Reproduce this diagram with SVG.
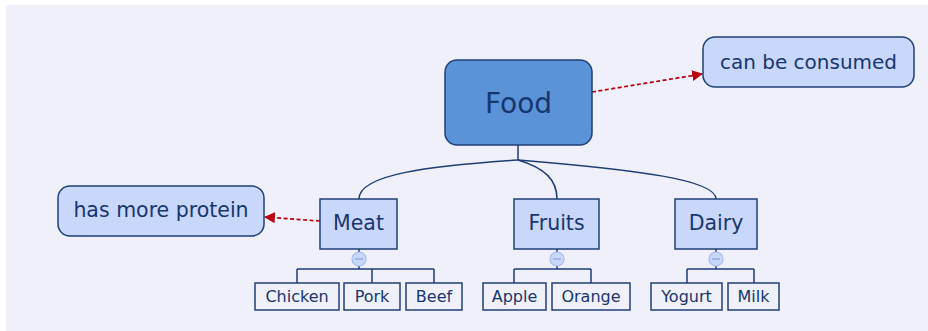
<svg xmlns="http://www.w3.org/2000/svg" width="928" height="331" viewBox="0 0 928 331">
  <defs>
    <marker id="arrow-red" viewBox="0 0 10 10" refX="9" refY="5" markerWidth="11" markerHeight="11" markerUnits="userSpaceOnUse" orient="auto">
      <path d="M0,0 L10,5 L0,10 z" fill="#b8000f"/>
    </marker>
    <style>
      text { font-family: "DejaVu Sans", Verdana, sans-serif; fill: #17366e; text-anchor: middle; }
      .root { fill: #5b93d9; stroke: #1f4077; stroke-width: 1.5; }
      .note { fill: #c9d7fb; stroke: #1f4077; stroke-width: 1.5; }
      .topic { fill: #c9d7fb; stroke: #1f4077; stroke-width: 1.5; }
      .leaf { fill: #eff0f9; stroke: #1f4077; stroke-width: 1.5; }
      .tree { fill: none; stroke: #1c3d75; stroke-width: 1.5; }
      .rel { fill: none; stroke: #b8000f; stroke-width: 1.7; stroke-dasharray: 4 2.5; }
      .fold { fill: #c9d7fb; stroke: #a4bbee; stroke-width: 1.2; }
      .fold-mark { stroke: #8aa3dd; stroke-width: 1.2; }
    </style>
  </defs>

  <rect x="0" y="0" width="928" height="331" fill="#ffffff"/>
  <rect x="6" y="5" width="922" height="326" fill="#eff0f9"/>

  <g id="connectors">
    <path class="tree" d="M518,145 V160"/>
    <path class="tree" d="M518,160 C430,166 359,174 359,199"/>
    <path class="tree" d="M518,160 C545,168 557,180 557,199"/>
    <path class="tree" d="M518,160 C640,170 716,180 716,199"/>
    <path class="tree" d="M359,249 V252 M359,266 V269 M297,269 H434 M297,269 V283 M372,269 V283 M434,269 V283"/>
    <path class="tree" d="M557,249 V252 M557,266 V269 M514,269 H591 M514,269 V283 M591,269 V283"/>
    <path class="tree" d="M716,249 V252 M716,266 V269 M687,269 H754 M687,269 V283 M754,269 V283"/>
    <path class="rel" d="M592,92 L702,74" marker-end="url(#arrow-red)"/>
    <path class="rel" d="M320,221 L265,217" marker-end="url(#arrow-red)"/>
  </g>

  <g id="food">
    <rect class="root" x="445" y="60" width="147" height="85" rx="12"/>
    <text x="518.5" y="113" font-size="28">Food</text>
  </g>

  <g id="can-be-consumed">
    <rect class="note" x="703" y="37" width="211" height="50" rx="12"/>
    <text x="808.5" y="69" font-size="20">can be consumed</text>
  </g>

  <g id="has-more-protein">
    <rect class="note" x="58" y="186" width="206" height="50" rx="12"/>
    <text x="161" y="217" font-size="20.5">has more protein</text>
  </g>

  <g id="meat">
    <rect class="topic" x="320" y="199" width="77" height="50"/>
    <text x="358.5" y="230" font-size="20.5">Meat</text>
    <circle class="fold" cx="359" cy="259" r="7"/>
    <line class="fold-mark" x1="355" y1="259" x2="363" y2="259"/>
  </g>

  <g id="fruits">
    <rect class="topic" x="514" y="199" width="85" height="50"/>
    <text x="556.5" y="230" font-size="20.5">Fruits</text>
    <circle class="fold" cx="557" cy="259" r="7"/>
    <line class="fold-mark" x1="553" y1="259" x2="561" y2="259"/>
  </g>

  <g id="dairy">
    <rect class="topic" x="675" y="199" width="82" height="50"/>
    <text x="716" y="230" font-size="20.5">Dairy</text>
    <circle class="fold" cx="716" cy="259" r="7"/>
    <line class="fold-mark" x1="712" y1="259" x2="720" y2="259"/>
  </g>

  <g id="chicken">
    <rect class="leaf" x="255" y="283" width="84" height="27"/>
    <text x="297" y="302" font-size="16">Chicken</text>
  </g>
  <g id="pork">
    <rect class="leaf" x="344" y="283" width="56" height="27"/>
    <text x="372" y="302" font-size="16">Pork</text>
  </g>
  <g id="beef">
    <rect class="leaf" x="406" y="283" width="56" height="27"/>
    <text x="434" y="302" font-size="16">Beef</text>
  </g>
  <g id="apple">
    <rect class="leaf" x="483" y="283" width="63" height="27"/>
    <text x="514.5" y="302" font-size="16">Apple</text>
  </g>
  <g id="orange">
    <rect class="leaf" x="552" y="283" width="78" height="27"/>
    <text x="591" y="302" font-size="16">Orange</text>
  </g>
  <g id="yogurt">
    <rect class="leaf" x="651" y="283" width="71" height="27"/>
    <text x="686.5" y="302" font-size="16">Yogurt</text>
  </g>
  <g id="milk">
    <rect class="leaf" x="728" y="283" width="51" height="27"/>
    <text x="753.5" y="302" font-size="16">Milk</text>
  </g>
</svg>
